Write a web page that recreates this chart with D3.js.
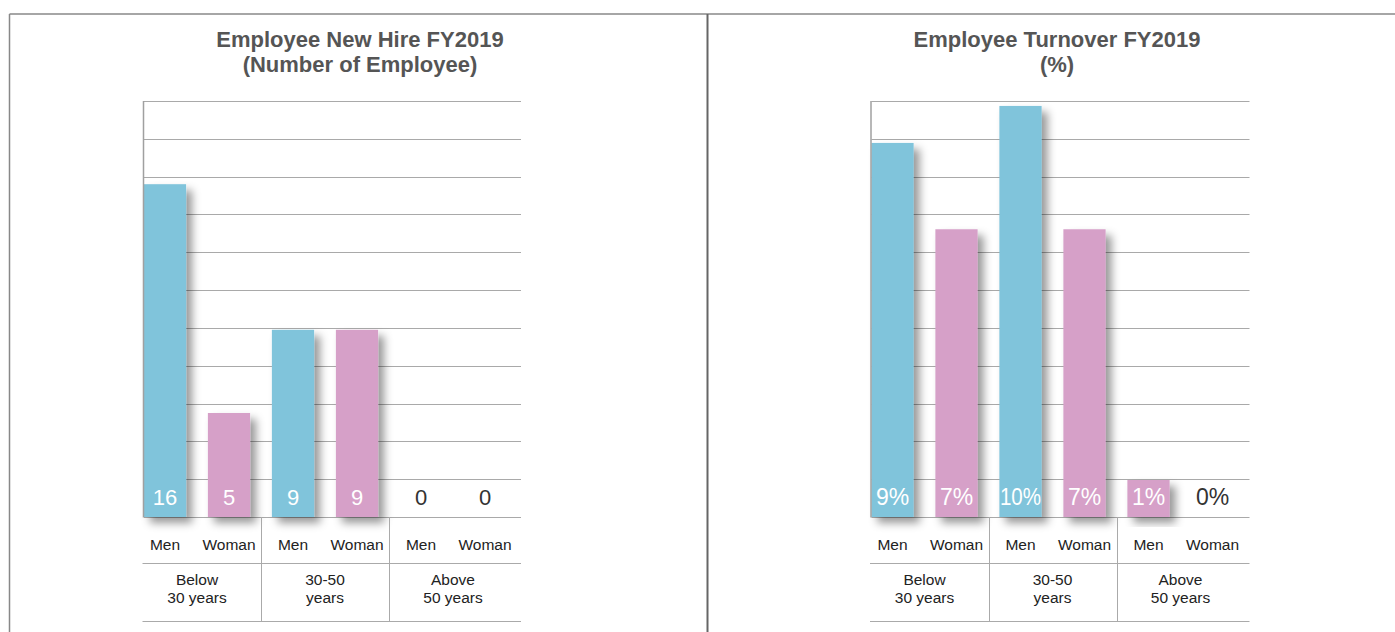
<!DOCTYPE html>
<html>
<head>
<meta charset="utf-8">
<script src="https://cdn.jsdelivr.net/npm/d3@7"></script>
<style>
  html, body { margin: 0; padding: 0; background: #fff; }
  svg { display: block; font-family: "Liberation Sans", Arial, Helvetica, sans-serif; }
</style>
</head>
<body>
<svg id="chart"></svg>
<script>
// data
var genders = ["Men", "Woman", "Men", "Woman", "Men", "Woman"];
var groupLabels = [["Below", "30 years"], ["30-50", "years"], ["Above", "50 years"]];

var hireValues = [16, 5, 9, 9, 0, 0];
var hireLabels = ["16", "5", "9", "9", "0", "0"];
var hireColorKeys = ["men", "woman", "men", "woman", "men", "woman"];

var turnoverValues = [9.1, 7.0, 10.0, 7.0, 0.9, 0];
var turnoverLabels = ["9%", "7%", "10%", "7%", "1%", "0%"];
var turnoverColorKeys = ["men", "woman", "men", "woman", "woman", "woman"];

const W = 1395, H = 632;
const colors = { men: "#80c4db", woman: "#d6a0c8" };

const svg = d3.select("#chart").attr("width", W).attr("height", H);

// drop shadow for the bars
svg.append("defs").append("filter")
    .attr("id", "shadow")
    .attr("x", "-30%").attr("y", "-15%")
    .attr("width", "180%").attr("height", "140%")
  .append("feDropShadow")
    .attr("dx", 6).attr("dy", 6)
    .attr("stdDeviation", 4.5)
    .attr("flood-color", "#000")
    .attr("flood-opacity", 0.4);

// outer frame
svg.append("line").attr("x1", 9.5).attr("x2", W).attr("y1", 14).attr("y2", 14)
    .attr("stroke", "#888").attr("stroke-width", 1.5);
svg.append("line").attr("x1", 9.5).attr("x2", 9.5).attr("y1", 14).attr("y2", H)
    .attr("stroke", "#888").attr("stroke-width", 1.5);
svg.append("line").attr("x1", 707.5).attr("x2", 707.5).attr("y1", 14).attr("y2", H)
    .attr("stroke", "#666").attr("stroke-width", 2);

function drawPanel(opt) {
    const g = svg.append("g");
    const top = 101, bottom = 517;

    const x = d3.scaleBand()
        .domain(d3.range(opt.values.length))
        .range([opt.x0, opt.x0 + 384])
        .paddingInner(0.34)
        .paddingOuter(0.17);
    const y = d3.scaleLinear().domain([0, opt.yMax]).range([bottom, top]);

    // title
    opt.title.forEach((t, j) => {
        g.append("text")
            .attr("x", opt.titleX).attr("y", 47 + j * 25)
            .attr("text-anchor", "middle")
            .attr("fill", "#555").attr("font-weight", "bold").attr("font-size", 22)
            .text(t);
    });

    // gridlines
    g.append("g")
        .selectAll("line")
        .data(d3.range(12).map(i => i * opt.yMax / 11))
        .join("line")
        .attr("x1", opt.axisX).attr("x2", opt.gridEnd)
        .attr("y1", d => Math.round(y(d)) + 0.5)
        .attr("y2", d => Math.round(y(d)) + 0.5)
        .attr("stroke", "#a9a9a9").attr("stroke-width", 1);

    // bars
    g.append("g")
        .selectAll("rect")
        .data(opt.values.map((v, i) => ({ v: v, i: i })).filter(d => d.v > 0))
        .join("rect")
        .attr("x", d => x(d.i))
        .attr("width", x.bandwidth())
        .attr("y", d => y(d.v))
        .attr("height", d => y(0) - y(d.v))
        .attr("fill", d => colors[opt.colorKeys[d.i]])
        .attr("filter", "url(#shadow)");

    // left axis line
    g.append("line")
        .attr("x1", opt.axisX - 0.5).attr("x2", opt.axisX - 0.5)
        .attr("y1", top).attr("y2", bottom + 0.5)
        .attr("stroke", "#a0a0a0").attr("stroke-width", 1.5);

    // value labels
    g.append("g")
        .selectAll("text")
        .data(opt.labels)
        .join("text")
        .attr("x", (d, i) => x(i) + x.bandwidth() / 2)
        .attr("y", bottom - 12)
        .attr("text-anchor", "middle")
        .attr("font-size", opt.labelSize)
        .attr("fill", (d, i) => opt.values[i] > 0 ? "#fff" : "#333")
        .text(d => d)
        .each(function () {
            const len = this.getComputedTextLength();
            if (len > x.bandwidth()) {
                d3.select(this).attr("textLength", x.bandwidth() - 1)
                    .attr("lengthAdjust", "spacingAndGlyphs");
            }
        });

    // table below the bars
    const tx0 = opt.axisX - 1.5, tx1 = opt.gridEnd;
    [563.5, 621.5].forEach(ly => {
        g.append("line").attr("x1", tx0).attr("x2", tx1).attr("y1", ly).attr("y2", ly)
            .attr("stroke", "#aaa").attr("stroke-width", 1);
    });
    d3.range(1, groupLabels.length).forEach(k => {
        const left = x(2 * k - 1) + x.bandwidth();
        const right = x(2 * k);
        const dx = Math.round((left + right) / 2) + 0.5;
        g.append("line").attr("x1", dx).attr("x2", dx).attr("y1", bottom).attr("y2", 621.5)
            .attr("stroke", "#aaa").attr("stroke-width", 1);
    });

    g.append("g")
        .selectAll("text")
        .data(genders)
        .join("text")
        .attr("x", (d, i) => x(i) + x.bandwidth() / 2)
        .attr("y", 550)
        .attr("text-anchor", "middle")
        .attr("font-size", 15.5)
        .attr("fill", "#222")
        .text(d => d);

    const grp = g.append("g")
        .selectAll("text")
        .data(groupLabels)
        .join("text")
        .attr("text-anchor", "middle")
        .attr("font-size", 15.5)
        .attr("fill", "#222");
    grp.each(function (d, k) {
        const cx = (x(2 * k) + x(2 * k + 1) + x.bandwidth()) / 2;
        d3.select(this).selectAll("tspan")
            .data(d)
            .join("tspan")
            .attr("x", cx)
            .attr("y", (t, j) => 585 + j * 18)
            .text(t => t);
    });
}

drawPanel({
    title: ["Employee New Hire FY2019", "(Number of Employee)"],
    titleX: 360,
    values: hireValues, labels: hireLabels, colorKeys: hireColorKeys,
    yMax: 20, x0: 133, axisX: 144, gridEnd: 521, labelSize: 22
});

drawPanel({
    title: ["Employee Turnover FY2019", "(%)"],
    titleX: 1057,
    values: turnoverValues, labels: turnoverLabels, colorKeys: turnoverColorKeys,
    yMax: 10.12, x0: 860.5, axisX: 871.5, gridEnd: 1249.5, labelSize: 23
});
</script>
</body>
</html>
